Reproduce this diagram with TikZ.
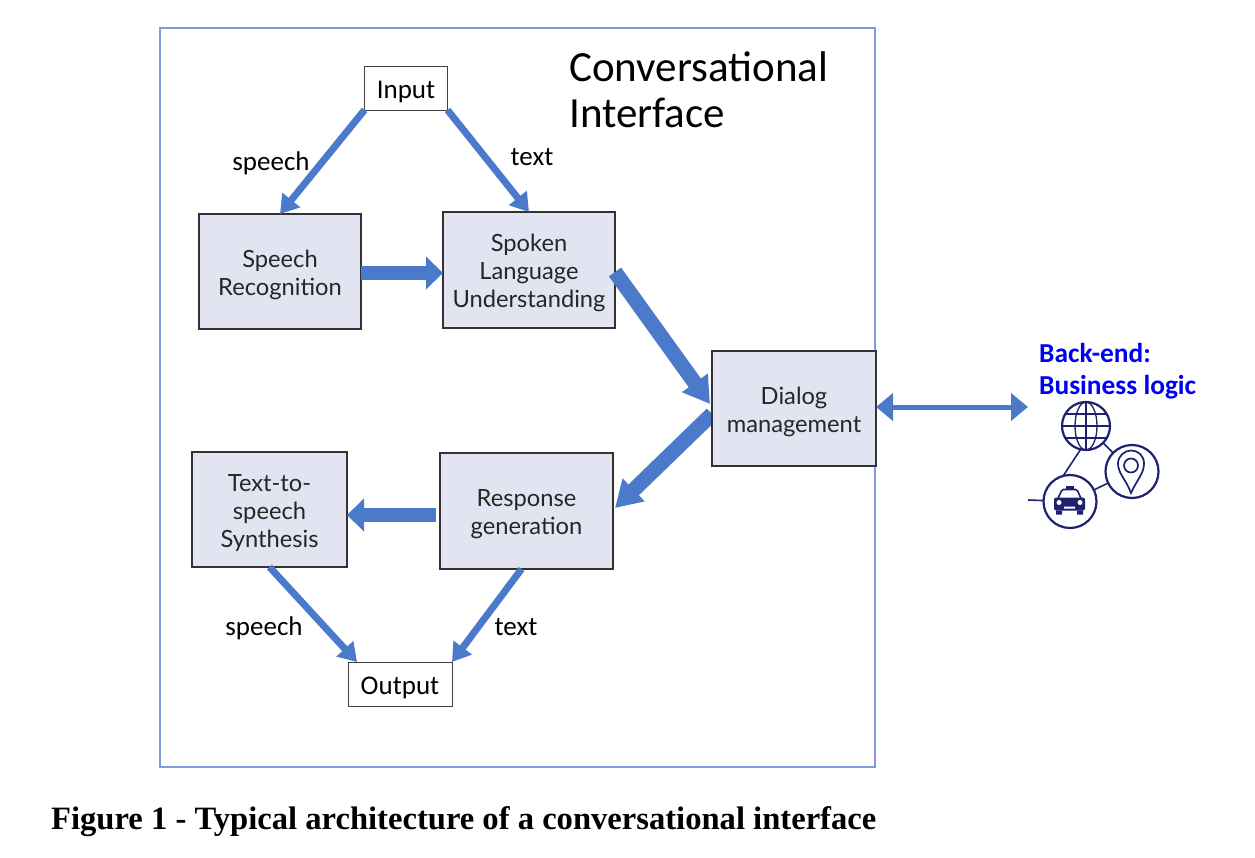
\documentclass[tikz,border=0pt]{standalone}
\usepackage{fontspec}
\usepackage{tikz}
\usetikzlibrary{arrows.meta,backgrounds}
\setmainfont{Carlito}
\newfontfamily\boxFont{Lato}
\newfontfamily\captionFont{Liberation Serif}
\definecolor{arrowBlue}{HTML}{4A7AC9}
\definecolor{frameBlue}{HTML}{7F9BD9}
\definecolor{boxFill}{HTML}{E2E5F1}
\definecolor{iconNavy}{HTML}{1C2170}
\newcommand{\labelSize}[0]{\fontsize{27}{32}\selectfont}
\newcommand{\boxSize}[0]{\fontsize{23.7}{28}\selectfont}
\newcommand{\boxText}[1]{\raisebox{-4pt}[\height][\depth]{\begin{tabular}{@{}c@{}}#1\end{tabular}}}

\begin{document}
\begin{tikzpicture}[x=1pt, y=-1pt]
  \tikzset{
    stageBox/.style={draw=black!80, line width=1.3pt, fill=boxFill, align=center, outer sep=0pt,
      inner sep=0pt, font=\boxFont\boxSize, text=black!85},
    ioBox/.style={draw=black!75, line width=0.8pt, fill=white, outer sep=0pt, inner sep=0pt, font=\labelSize},
    edgeLabel/.style={font=\labelSize, inner sep=0pt},
    thinFlow/.style={draw=arrowBlue, line width=7pt, -{Triangle[length=18pt, width=22pt]}},
    midFlow/.style={draw=arrowBlue, line width=14pt, -{Triangle[length=17pt, width=32pt]}},
    wideFlow/.style={draw=arrowBlue, line width=15pt, -{Triangle[length=26pt, width=30pt]}},
    iconRing/.style={circle, draw=iconNavy, line width=2.2pt, fill=white, inner sep=0pt, outer sep=0pt},
    iconLine/.style={draw=iconNavy, line width=1.6pt}
  }
  \useasboundingbox (0,0) rectangle (1255,858);

  \node[draw=frameBlue, line width=1.2pt, minimum width=715pt, minimum height=739pt, outer sep=0pt] (frame) at (517.5,397.5) {};
  \node[anchor=north west, align=left, inner sep=0pt, font=\fontsize{43}{46}\selectfont] (title) at (569,51) {Conversational\\Interface};

  \node[ioBox, minimum width=83pt, minimum height=44pt] (input) at (406,88) {\boxText{Input}};
  \node[stageBox, minimum width=162pt, minimum height=115pt] (SR) at (280,271.5) {\boxText{Speech\\Recognition}};
  \node[stageBox, minimum width=172pt, minimum height=116pt] (SLU) at (529,270) {\boxText{Spoken\\Language\\Understanding}};
  \node[stageBox, minimum width=164pt, minimum height=115pt] (DM) at (794,408.5) {\boxText{Dialog\\management}};
  \node[stageBox, minimum width=173pt, minimum height=116pt] (RG) at (526.5,511) {\boxText{Response\\generation}};
  \node[stageBox, minimum width=155pt, minimum height=115pt] (TTS) at (269.5,509.5) {\boxText{Text-to-\\speech\\Synthesis}};
  \node[ioBox, minimum width=104pt, minimum height=44pt] (output) at (400,684) {\boxText{Output}};

  \node[edgeLabel] (speech-1) at (271,163) {speech};
  \node[edgeLabel] (text-1) at (532,157) {text};
  \node[edgeLabel] (speech-2) at (264,628) {speech};
  \node[edgeLabel] (text-2) at (516,627) {text};

  \draw[thinFlow] (input.south west) -- (SR.north);
  \draw[thinFlow] (input.south east) -- (SLU.north);
  \draw[midFlow] ([yshift=-1.5pt]SR.east) -- ([yshift=-3pt]SLU.west);
  \draw[wideFlow] ([yshift=-2pt]SLU.east) -- ([xshift=-2pt,yshift=4.5pt]DM.west);
  \begin{scope}[on background layer]
    \draw[wideFlow] ([yshift=-5.5pt]DM.west) -- ([xshift=2pt,yshift=3pt]RG.east);
  \end{scope}
  \draw[midFlow, shorten <=4pt] ([yshift=-4pt]RG.west) -- ([yshift=-5.5pt]TTS.east);
  \draw[thinFlow] (TTS.south) -- ([xshift=9pt]output.north west);
  \draw[thinFlow] ([xshift=-5pt]RG.south) -- (output.north east);

  % back-end icons
  \node[anchor=north west, align=left, inner sep=0pt, text=blue!95!black, font=\bfseries\fontsize{27.4}{32}\selectfont] (backend) at (1039,343) {Back-end:\\Business logic};
  \coordinate (stub) at (1028,500);
  \coordinate (backendEnd) at (1028,407);
  \node[iconRing, minimum size=48pt] (globe) at (1086,426) {};
  \node[iconRing, minimum size=53pt] (pin) at (1132,471.5) {};
  \node[iconRing, minimum size=53pt] (taxi) at (1070,501.5) {};
  \draw[iconLine] (globe) -- (pin);
  \draw[iconLine] (globe.257) -- (taxi.105);
  \draw[iconLine] (taxi) -- (pin);
  \draw[iconLine] (stub) -- (taxi);
  \draw[thinFlow, line width=5pt, {Triangle[length=17pt, width=27pt]}-{Triangle[length=17pt, width=27pt]}] ([yshift=1.5pt]DM.east) -- (backendEnd);

  \begin{scope}[shift={(globe.center)}, iconNavy, line width=1.3pt]
    \draw (-24,0) -- (24,0) (0,-24) -- (0,24) (-21,-12) -- (21,-12) (-21,12) -- (21,12);
    \draw (0,0) ellipse (11 and 24);
  \end{scope}
  \begin{scope}[shift={(pin.center)}, iconNavy, line width=1.7pt]
    \draw (-1,21.5) .. controls (-6,8) and (-14,2) .. (-14,-8) .. controls (-14,-16) and (-7,-21) .. (-1,-21) .. controls (6,-21) and (12,-16) .. (12,-8) .. controls (12,2) and (5,8) .. (-1,21.5) -- cycle;
    \draw (-1,-6) circle (7);
  \end{scope}
  \begin{scope}[shift={(taxi.center)}, iconNavy, line width=1.6pt]
    \fill (-4,-16) rectangle (4,-13);
    \draw[rounded corners=1.5pt] (-12,-3) -- (-8,-12) -- (7,-12) -- (11,-3);
    \fill[rounded corners=2pt] (-16,-4) rectangle (15,9);
    \fill (-14,9) rectangle (-8,13) (7,9) rectangle (13,13);
    \fill[white] (-11,1) circle (2.5) (10,1) circle (2.5) (-6,5) rectangle (5,7);
  \end{scope}

  \node[anchor=base west, inner sep=0pt, font=\captionFont\bfseries\fontsize{32.6}{36}\selectfont] (caption) at (51,829) {Figure 1 - Typical architecture of a conversational interface};
\end{tikzpicture}
\end{document}
